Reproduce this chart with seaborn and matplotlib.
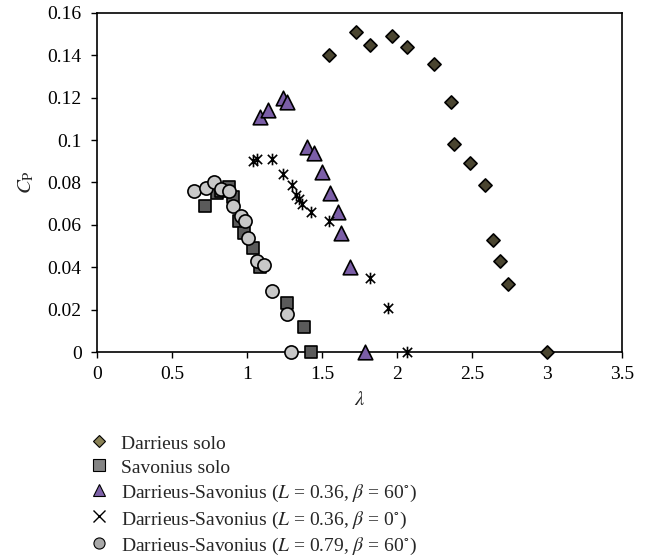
import matplotlib
matplotlib.use("Agg")
import matplotlib.pyplot as plt
import seaborn as sns
import pandas as pd
from matplotlib.lines import Line2D
from matplotlib.path import Path

# Darrieus solo
darrieus_tsr = [1.55, 1.73, 1.82, 1.97, 2.07, 2.25, 2.36, 2.38, 2.49, 2.59, 2.64, 2.69, 2.74, 3.0]
darrieus_cp = [0.140, 0.151, 0.145, 0.149, 0.144, 0.136, 0.118, 0.098, 0.089, 0.079, 0.053, 0.043, 0.032, 0.0]

# Savonius solo
savonius_tsr = [0.72, 0.80, 0.83, 0.88, 0.91, 0.95, 0.98, 1.04, 1.09, 1.27, 1.38, 1.43]
savonius_cp = [0.069, 0.075, 0.076, 0.078, 0.073, 0.062, 0.056, 0.049, 0.040, 0.023, 0.012, 0.0]

# Darrieus-Savonius L=0.36, beta=60
ds36_60_tsr = [1.09, 1.14, 1.24, 1.27, 1.40, 1.45, 1.50, 1.555, 1.61, 1.63, 1.685, 1.79]
ds36_60_cp = [0.111, 0.114, 0.120, 0.118, 0.0965, 0.094, 0.085, 0.075, 0.066, 0.056, 0.040, 0.0]

# Darrieus-Savonius L=0.36, beta=0
ds36_0_tsr = [1.04, 1.07, 1.17, 1.24, 1.30, 1.33, 1.35, 1.37, 1.43, 1.55, 1.82, 1.94, 2.07]
ds36_0_cp = [0.090, 0.091, 0.091, 0.084, 0.079, 0.074, 0.072, 0.070, 0.066, 0.062, 0.035, 0.021, 0.0]

# Darrieus-Savonius L=0.79, beta=60
ds79_60_tsr = [0.65, 0.73, 0.78, 0.83, 0.88, 0.91, 0.96, 0.99, 1.01, 1.07, 1.115, 1.17, 1.27, 1.295]
ds79_60_cp = [0.076, 0.0775, 0.080, 0.077, 0.076, 0.069, 0.064, 0.062, 0.054, 0.043, 0.041, 0.029, 0.018, 0.0]

labels = [
    "Darrieus solo",
    "Savonius solo",
    r"Darrieus-Savonius ($L$ = 0.36, $\beta$ = 60$^{\circ}$)",
    r"Darrieus-Savonius ($L$ = 0.36, $\beta$ = 0$^{\circ}$)",
    r"Darrieus-Savonius ($L$ = 0.79, $\beta$ = 60$^{\circ}$)",
]

sns.set_style("ticks")
plt.rcParams["font.family"] = ["Liberation Serif", "DejaVu Serif"]
plt.rcParams["mathtext.fontset"] = "stix"

# asterisk-like marker: x with a vertical bar
star = Path(
    [(-1, -1), (1, 1), (-1, 1), (1, -1), (0, -1.25), (0, 1.25)],
    [Path.MOVETO, Path.LINETO, Path.MOVETO, Path.LINETO, Path.MOVETO, Path.LINETO],
)

fig = plt.figure(figsize=(6.48, 5.6), dpi=100)
ax = fig.add_axes([0.1497, 0.3714, 0.8097, 0.6056])

series = [
    (darrieus_tsr, darrieus_cp, "D", "#4a4530", 45),
    (savonius_tsr, savonius_cp, "s", "#5a5a5a", 85),
    (ds36_60_tsr, ds36_60_cp, "^", "#7b5ea7", 110),
    (ds79_60_tsr, ds79_60_cp, "o", "#c8c8c8", 90),
]
for xs, ys, m, c, s in series:
    df = pd.DataFrame({"tsr": xs, "cp": ys})
    sns.scatterplot(data=df, x="tsr", y="cp", marker=m, color=c, s=s,
                    edgecolor="black", linewidth=1.2, ax=ax, clip_on=False, zorder=3)

df = pd.DataFrame({"tsr": ds36_0_tsr, "cp": ds36_0_cp})
sns.scatterplot(data=df, x="tsr", y="cp", marker=star, color="black", s=70,
                edgecolor="black", linewidth=1.2, ax=ax, clip_on=False, zorder=3)

ax.set_xlim(0, 3.5)
ax.set_ylim(0, 0.16)
ax.set_xticks([0, 0.5, 1, 1.5, 2, 2.5, 3, 3.5])
ax.set_xticklabels(["0", "0.5", "1", "1.5", "2", "2.5", "3", "3.5"])
ax.set_yticks([0, 0.02, 0.04, 0.06, 0.08, 0.1, 0.12, 0.14, 0.16])
ax.set_yticklabels(["0", "0.02", "0.04", "0.06", "0.08", "0.1", "0.12", "0.14", "0.16"])
ax.tick_params(labelsize=14, length=4, width=1, colors="black", direction="out")
ax.tick_params(axis="y", pad=7)
ax.tick_params(axis="x", pad=6)
for sp in ax.spines.values():
    sp.set_linewidth(1.2)
    sp.set_color("black")
ax.set_xlabel(r"$\lambda$", fontsize=15, labelpad=6)
ax.set_ylabel(r"$C_{\mathrm{P}}$", fontsize=15, labelpad=8)

handles = [
    Line2D([], [], ls="", marker="D", ms=6, mfc="#8a8256", mec="black", mew=0.8),
    Line2D([], [], ls="", marker="s", ms=8, mfc="#858585", mec="black", mew=0.8),
    Line2D([], [], ls="", marker="^", ms=8, mfc="#7e62a8", mec="black", mew=0.8),
    Line2D([], [], ls="", marker="x", ms=8, color="black", mew=1.0),
    Line2D([], [], ls="", marker="o", ms=8, mfc="#a8a8a8", mec="black", mew=0.8),
]
fig.legend(handles, labels, loc="upper left", bbox_to_anchor=(0.14, 0.228),
           frameon=False, fontsize=14, handlelength=0.9, handletextpad=0.65,
           handleheight=1.22, labelspacing=0.2, borderaxespad=0, borderpad=0)

fig.savefig("out.png", dpi=100)
